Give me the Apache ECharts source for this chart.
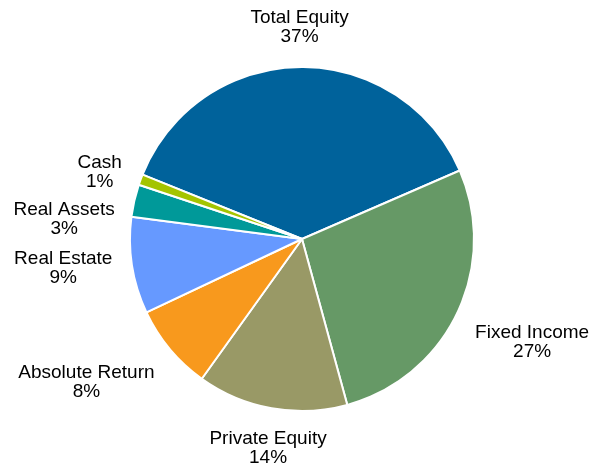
<!DOCTYPE html>
<html>
<head>
<meta charset="utf-8">
<script src="https://cdn.jsdelivr.net/npm/echarts@6/dist/echarts.min.js"></script>
<style>
html,body{margin:0;padding:0;background:#fff;}
#chart{width:590px;height:468px;}
</style>
</head>
<body>
<div id="chart"></div>
<script>
const categories = ['Total Equity', 'Fixed Income', 'Private Equity', 'Absolute Return', 'Real Estate', 'Real Assets', 'Cash'];
const values = [37, 27, 14, 8, 9, 3, 1];
const colors = ['#00629B', '#669966', '#999966', '#F8991D', '#6699FF', '#009999', '#A4C400'];

const CX = 302, CY = 239, R = 172, START = 158;
const GAP = 20, HALF = 20, MINSEP = 47;

const total = values.reduce((s, v) => s + v, 0);
const anchors = [];
let ang = START;
values.forEach(v => {
  const span = v / total * 360;
  const mid = (ang - span / 2) * Math.PI / 180;
  ang -= span;
  const c = Math.cos(mid), s = Math.sin(mid);
  const ax = CX + (R + GAP) * c, ay = CY - (R + GAP) * s;
  const yc = Math.abs(s) < 0.4 ? ay : (s > 0 ? ay - HALF : ay + HALF);
  anchors.push({ c, s, ax, yc });
});
['L', 'R'].forEach(side => {
  const list = anchors.filter(p => Math.abs(p.c) >= 0.3 && (side === 'L' ? p.c < 0 : p.c > 0))
    .sort((p, q) => p.yc - q.yc);
  for (let i = 1; i < list.length; i++) {
    if (list[i].yc - list[i - 1].yc < MINSEP) list[i].yc = list[i - 1].yc + MINSEP;
  }
});

const chart = echarts.init(document.getElementById('chart'), null, { renderer: 'canvas' });
chart.setOption({
  animation: false,
  backgroundColor: '#ffffff',
  series: [{
    type: 'pie',
    center: [CX, CY],
    radius: [0, R],
    startAngle: START,
    clockwise: true,
    avoidLabelOverlap: false,
    data: categories.map((name, i) => ({ name, value: values[i], itemStyle: { color: colors[i] } })),
    itemStyle: { borderColor: '#ffffff', borderWidth: 2 },
    emphasis: { disabled: true },
    label: {
      show: true,
      position: 'outside',
      formatter: '{b}\n{c}%',
      color: '#000000',
      fontFamily: 'Liberation Sans, Arial, sans-serif',
      fontSize: 19,
      lineHeight: 19
    },
    labelLine: { show: false },
    labelLayout: function (p) {
      const q = anchors[p.dataIndex];
      const w = p.labelRect.width;
      const x = Math.abs(q.c) < 0.3 ? q.ax : (q.c > 0 ? q.ax + w / 2 : q.ax - w / 2);
      return { x: x, y: q.yc, align: 'center', verticalAlign: 'middle' };
    }
  }]
});
</script>
</body>
</html>
